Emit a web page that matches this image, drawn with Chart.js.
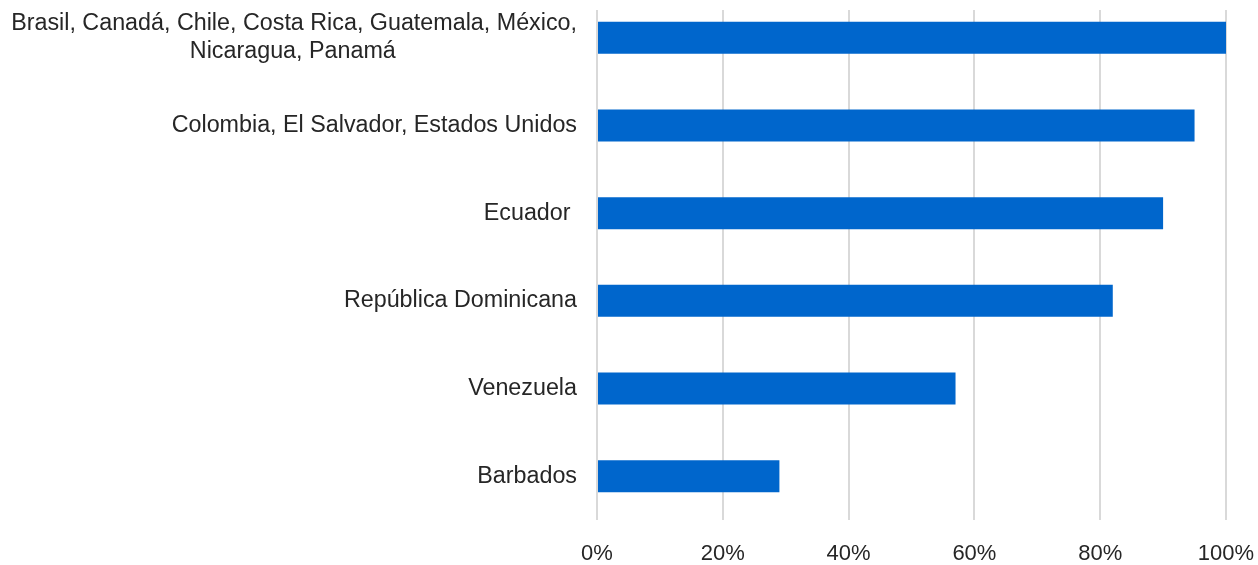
<!DOCTYPE html>
<html>
<head>
<meta charset="utf-8">
<script src="https://cdn.jsdelivr.net/npm/chart.js@4"></script>
<style>
  html, body { margin: 0; padding: 0; background: #fff; overflow: hidden; }
  #wrap { position: absolute; left: 0; top: -16px; width: 1258px; height: 581px; }
</style>
</head>
<body>
<div id="wrap"><canvas id="chart"></canvas></div>
<script>
// categories, top to bottom (second line of the first label padded so it sits centred under the first)
const countries = [
  ["Brasil, Canadá, Chile, Costa Rica, Guatemala, México,", "Nicaragua, Panamá" + " ".repeat(28)],
  "Colombia, El Salvador, Estados Unidos",
  "Ecuador ",
  "República Dominicana",
  "Venezuela",
  "Barbados"
];
// share, in percent
const shares = [100, 95, 90, 82, 57, 29];
const xTicks = [0, 20, 40, 60, 80, 100];

const fontFamily = "'Liberation Sans', Arial, sans-serif";

// the gridlines in the original stop a little below the top edge
const gridTopClip = {
  id: "gridTopClip",
  beforeDraw(chart) {
    const { ctx, chartArea, width, height } = chart;
    ctx.save();
    ctx.beginPath();
    ctx.rect(0, 0, width, height);
    ctx.rect(chartArea.left - 3, 0, chartArea.right - chartArea.left + 6, chartArea.top + 16);
    ctx.clip("evenodd");
  },
  afterDraw(chart) {
    chart.ctx.restore();
  }
};

new Chart(document.getElementById("chart"), {
  type: "bar",
  data: {
    labels: countries,
    datasets: [{
      data: shares,
      backgroundColor: "#0066cc",
      borderWidth: 0,
      barPercentage: 0.365,
      categoryPercentage: 1
    }]
  },
  options: {
    indexAxis: "y",
    responsive: true,
    maintainAspectRatio: false,
    animation: false,
    layout: { padding: { left: 10, right: 32, top: 10, bottom: 0 } },
    plugins: {
      legend: { display: false },
      tooltip: { enabled: false }
    },
    scales: {
      x: {
        min: 0,
        max: 100,
        afterBuildTicks: (scale) => {
          scale.ticks = xTicks.map(v => ({ value: v }));
        },
        afterFit: (scale) => {
          scale.height = 45;
          scale.paddingLeft = 0;
          scale.paddingRight = 0;
        },
        ticks: {
          callback: (v) => v + "%",
          color: "#262626",
          padding: 21,
          font: { family: fontFamily, size: 22 }
        },
        grid: { color: "#d9d9d9", lineWidth: 2, drawTicks: false },
        border: { display: false }
      },
      y: {
        afterFit: (scale) => {
          scale.width = 587;
          scale.paddingTop = 0;
          scale.paddingBottom = 0;
        },
        ticks: {
          color: "#262626",
          padding: 20,
          font: { family: fontFamily, size: 23.3 }
        },
        grid: { display: false, drawTicks: false },
        border: { display: false }
      }
    }
  },
  plugins: [gridTopClip]
});
</script>
</body>
</html>
